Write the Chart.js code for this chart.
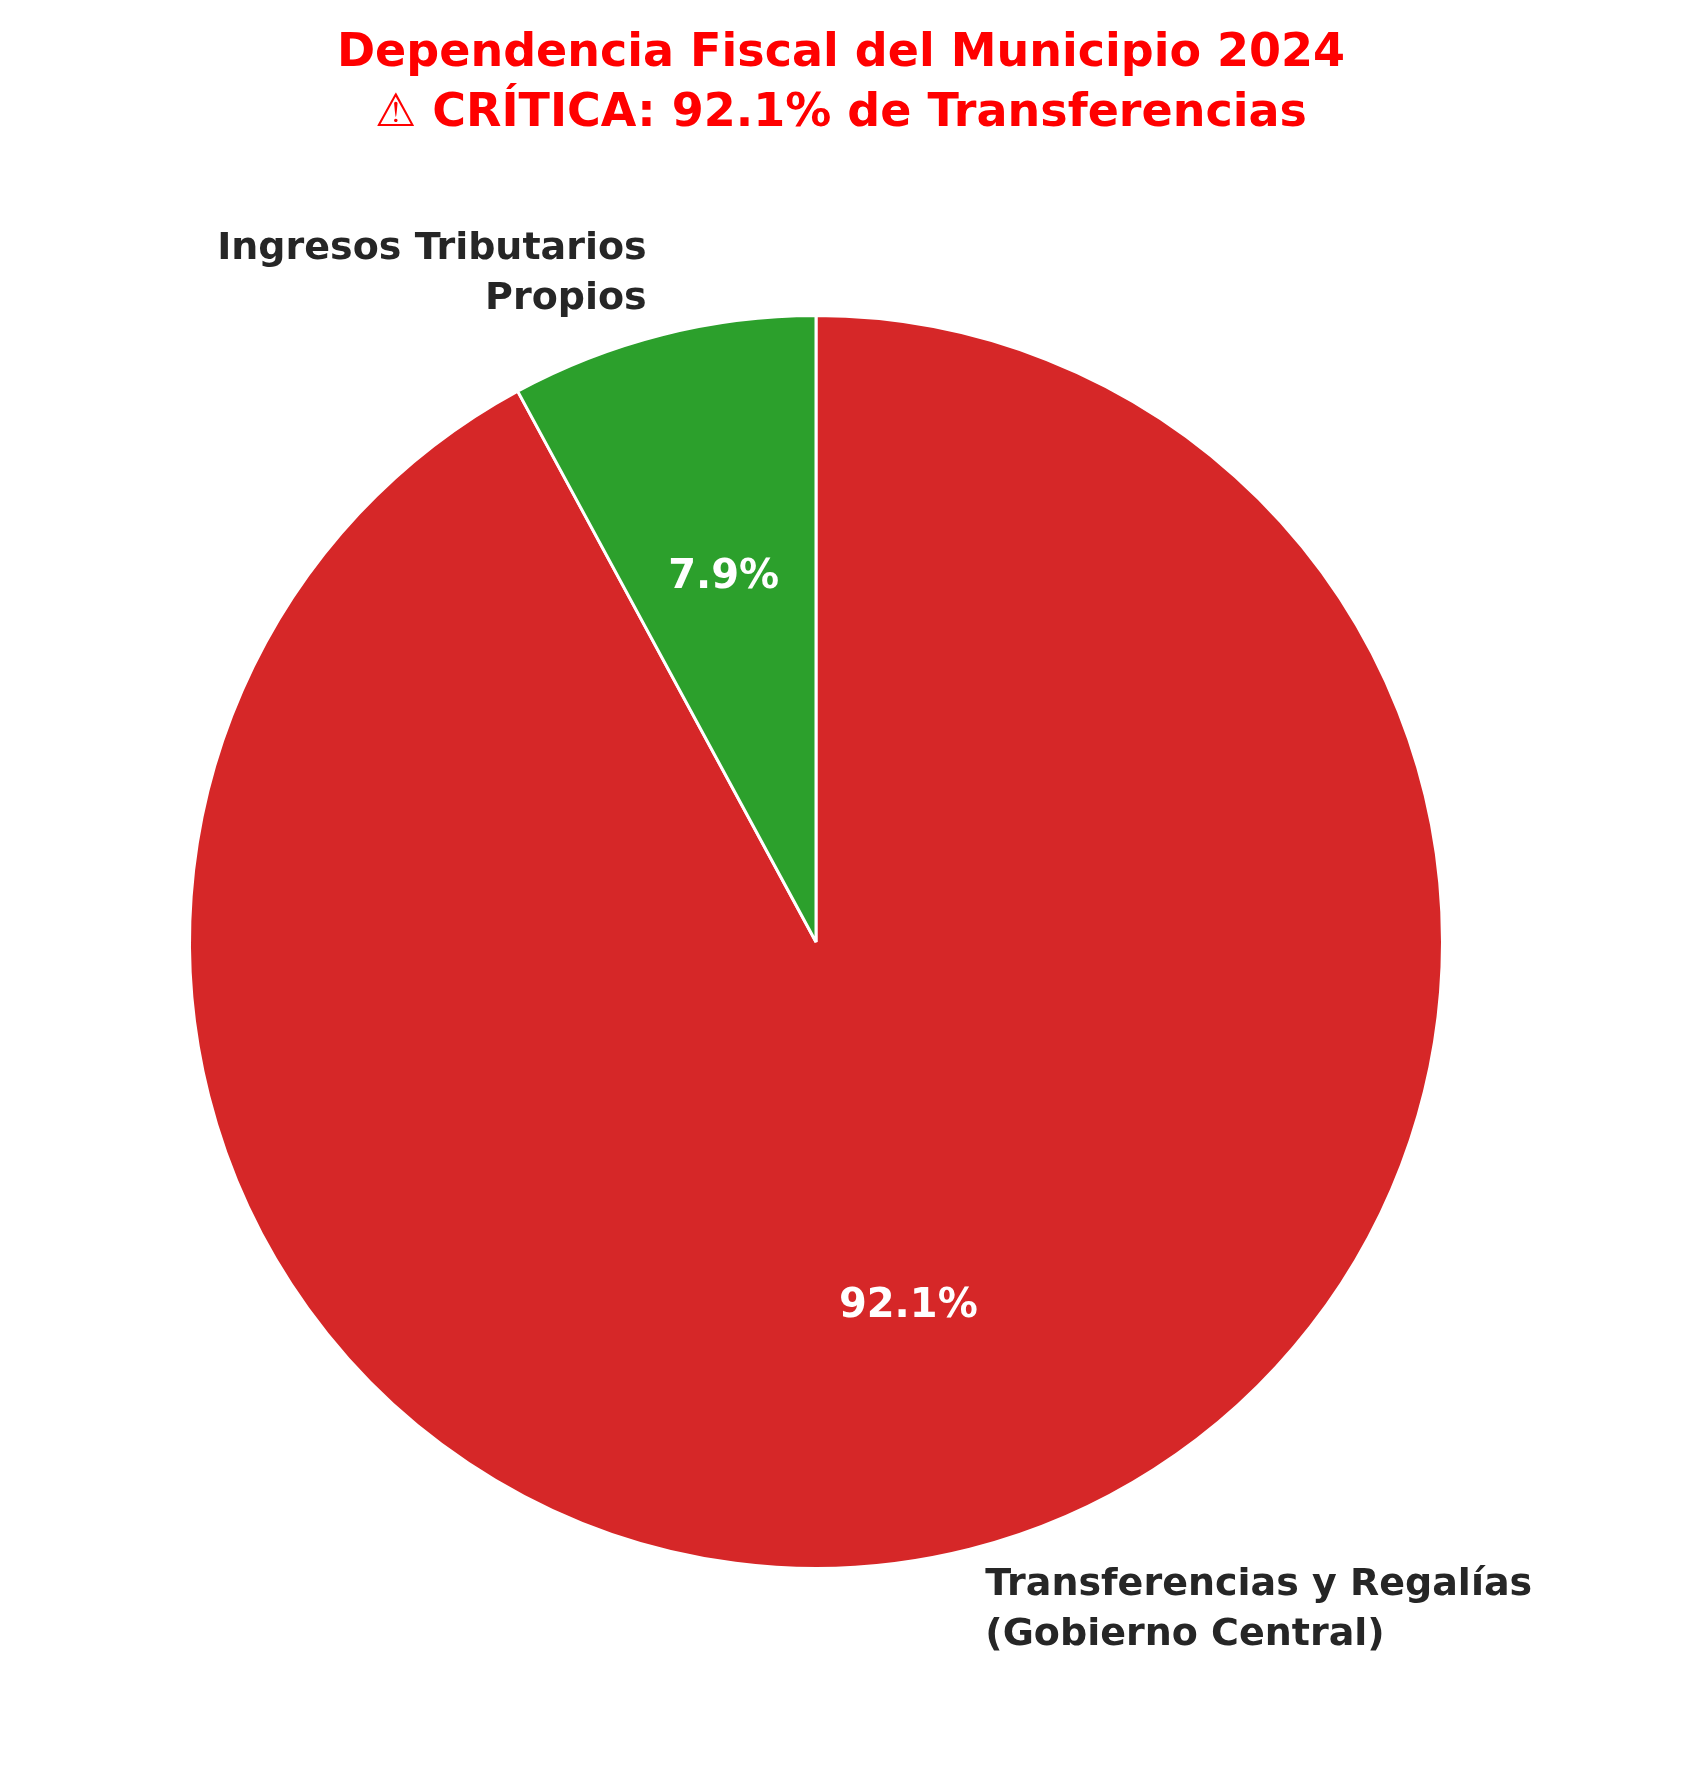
<!DOCTYPE html>
<html><head><meta charset="utf-8">
<script src="https://cdn.jsdelivr.net/npm/chart.js@4"></script>
<style>html,body{margin:0;padding:0;background:#fff}#wrap{width:1682px;height:1766px}</style>
</head><body><div id="wrap"><canvas id="c"></canvas></div>
<script>
const categories = ["Transferencias y Regalías\n(Gobierno Central)", "Ingresos Tributarios\nPropios"];
const values = [92.1, 7.9];
const colors = ["#d62728", "#2ca02c"];
const titleLines = ["Dependencia Fiscal del Municipio 2024", "⚠ CRÍTICA: 92.1% de Transferencias"];
const FONT = "'DejaVu Sans', sans-serif";

const labelPlugin = {
  id: 'lbl',
  afterDatasetsDraw(chart) {
    const ctx = chart.ctx;
    const meta = chart.getDatasetMeta(0);
    const total = values.reduce((a, b) => a + b, 0);
    ctx.save();
    meta.data.forEach((arc, i) => {
      const mid = (arc.startAngle + arc.endAngle) / 2;
      const R = arc.outerRadius;
      const cx = arc.x, cy = arc.y;
      // percentage
      ctx.fillStyle = '#fff';
      ctx.font = 'bold 40px ' + FONT;
      ctx.textAlign = 'center'; ctx.textBaseline = 'middle';
      ctx.fillText((values[i] / total * 100).toFixed(1) + '%', cx + 0.6 * R * Math.cos(mid), cy + 0.6 * R * Math.sin(mid));
      // category label
      const lx = cx + 1.1 * R * Math.cos(mid), ly = cy + 1.1 * R * Math.sin(mid);
      const lines = categories[i].split('\n');
      ctx.fillStyle = '#262626';
      ctx.font = 'bold 38px ' + FONT;
      ctx.textAlign = Math.cos(mid) >= 0 ? 'left' : 'right';
      const lh = 50;
      lines.forEach((t, k) => ctx.fillText(t, lx, ly + (k - (lines.length - 1) / 2) * lh));
    });
    // title
    ctx.fillStyle = '#ff0000';
    ctx.font = 'bold 46px ' + FONT;
    ctx.textAlign = 'center';
    titleLines.forEach((t, k) => ctx.fillText(t, chart.width / 2, 54 + k * 60));
    ctx.restore();
  }
};

new Chart(document.getElementById('c'), {
  type: 'pie',
  data: { labels: categories, datasets: [{ data: values, backgroundColor: colors, borderColor: '#fff', borderWidth: 3 }] },
  options: {
    responsive: true, maintainAspectRatio: false, animation: false,
    layout: { padding: { left: 188, right: 238, top: 314, bottom: 196 } },
    plugins: { legend: { display: false }, tooltip: { enabled: false } }
  },
  plugins: [labelPlugin]
});
</script></body></html>
